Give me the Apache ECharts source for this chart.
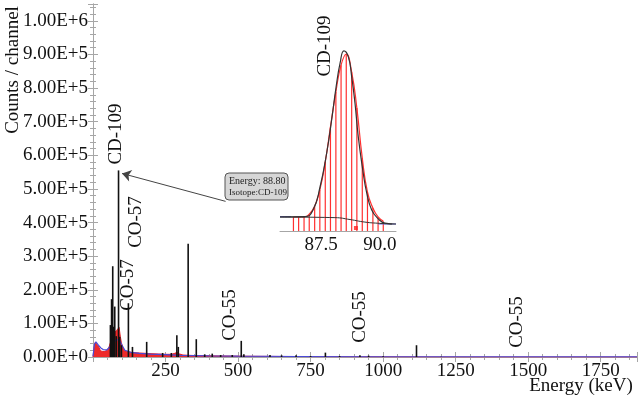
<!DOCTYPE html>
<html>
<head>
<meta charset="utf-8">
<script src="https://cdn.jsdelivr.net/npm/echarts@6/dist/echarts.min.js"></script>
<style>
html, body { margin: 0; padding: 0; background: #fff; }
#spectrum_chart { width: 640px; height: 398px; }
</style>
</head>
<body>
<div id="spectrum_chart"></div>
<script>
// black peaks of the full spectrum (keV, counts per channel)
var peakKeV = [60, 64, 68, 71, 75, 80, 88, 92, 98, 122, 136, 185, 240, 270, 289, 294, 328, 356, 385, 411, 440, 480, 511, 520, 610, 650, 700, 750, 801, 850, 920, 950, 1000, 1115, 1200];
var peakCounts = [95000, 172000, 270000, 90000, 150000, 62000, 555000, 60000, 35000, 160000, 30000, 45000, 12000, 12000, 65000, 30000, 337000, 53000, 8000, 10000, 6000, 6000, 48000, 8000, 6000, 5000, 5000, 3000, 13000, 3000, 5000, 4000, 2000, 35000, 1000];

// red continuum
var contKeV = [0, 4, 8, 14, 20, 26, 32, 38, 44, 50, 56, 62, 68, 74, 80, 86, 90, 94, 98, 103, 108, 115, 125, 140, 160, 180, 200, 225, 250, 270, 282, 290, 298, 310, 330, 360, 400, 450, 500, 560, 650, 750, 850, 1000, 1150, 1300, 1875];
var contCounts = [0, 30000, 44000, 45000, 30000, 18000, 15000, 16000, 15000, 20000, 32000, 48000, 62000, 72000, 78000, 83000, 88000, 62000, 42000, 28000, 20000, 17000, 15000, 13000, 12000, 11000, 10000, 9000, 8000, 8000, 11000, 14000, 9000, 6000, 5000, 4000, 3500, 3000, 2500, 2000, 1500, 1200, 1000, 600, 300, 0, 0];

// blue background fit
var bgKeV = [0, 5, 10, 18, 27, 35, 41, 47, 52, 57, 62, 67, 72, 80, 90, 100, 110, 130, 160, 200, 250, 300, 400, 500, 700, 1000, 1875];
var bgCounts = [2000, 38000, 45000, 36000, 27000, 22000, 20000, 21000, 24000, 29000, 35000, 40000, 45000, 50000, 52000, 35000, 20000, 14000, 11000, 8500, 7000, 5000, 3500, 2500, 1500, 800, 500];

// inset: CD-109 peak channels
var chanKeV = [86.33, 86.55, 86.78, 87.00, 87.23, 87.45, 87.68, 87.90, 88.13, 88.35, 88.57, 88.80, 89.02, 89.25, 89.47, 89.70, 89.92, 90.14];
var chanCounts = [44000, 44000, 44000, 53000, 78000, 129000, 217000, 327000, 437000, 521000, 556000, 499000, 386000, 229000, 122000, 72000, 44000, 31000];

// inset: gaussian fit
var fitKeV = [85.76, 86.82, 87.16, 87.46, 87.74, 87.95, 88.14, 88.31, 88.47, 88.66, 88.80, 88.94, 89.08, 89.27, 89.44, 89.65, 89.93, 90.21, 90.68];
var fitCounts = [44000, 45000, 66000, 139000, 245000, 349000, 453000, 528000, 566000, 547000, 485000, 402000, 296000, 192000, 119000, 66000, 38000, 25000, 22000];

// inset: step background under the peak
var stepKeV = [85.76, 88.09, 88.73, 89.36, 89.99, 90.51];
var stepCounts = [44000, 42000, 36000, 28000, 24000, 22000];

var insetTicks = [87.5, 90.0];

function pairs(xs, ys) {
	var out = [];
	for (var i = 0; i < xs.length; i++) out.push([xs[i], ys[i]]);
	return out;
}

var serif = '"Liberation Serif", "DejaVu Serif", serif';
var axisGray = '#a6a6a6';

var spectrum_chart = echarts.init(document.getElementById("spectrum_chart"));

var insetBlue = [[85.76, 45000], [86.23, 45000], [null, null], [89.92, 22000], [90.68, 22000]];

function rotText(x, y, txt) {
	return { type: 'text', x: x, y: y, rotation: Math.PI / 2, style: { text: txt, font: '19px ' + serif, fill: '#111', align: 'center', verticalAlign: 'middle' } };
}

var option = {
	animation: false,
	backgroundColor: '#fff',
	grid: [
		{ left: 93, right: 3, top: 4, bottom: 41, outerBoundsMode: 'none' },
		{ left: 280, width: 116, top: 40, height: 191, outerBoundsMode: 'none' }
	],
	xAxis: [
		{
			type: 'value', gridIndex: 0, min: 0, max: 1875, interval: 250,
			axisLine: { lineStyle: { color: axisGray } },
			axisTick: { inside: true, length: 5, lineStyle: { color: axisGray } },
			minorTick: { show: true, splitNumber: 5, length: 3, lineStyle: { color: axisGray } },
			splitLine: { show: false },
			axisLabel: {
				showMinLabel: false, showMaxLabel: false, margin: 5,
				formatter: function (v) { return String(v); },
				color: '#111', fontFamily: serif, fontSize: 19
			}
		},
		{
			type: 'value', gridIndex: 0, position: 'top', min: 0, max: 1875, interval: 250,
			axisLine: { lineStyle: { color: axisGray } },
			axisTick: { inside: true, length: 5, lineStyle: { color: axisGray } },
			minorTick: { show: true, splitNumber: 5, length: 3, lineStyle: { color: axisGray } },
			splitLine: { show: false },
			axisLabel: { show: false }
		},
		{
			type: 'value', gridIndex: 1, min: 85.76, max: 90.68,
			axisLine: { lineStyle: { color: axisGray } },
			axisTick: { show: false },
			splitLine: { show: false },
			axisLabel: {
				customValues: insetTicks, margin: 5,
				formatter: function (v) { return v.toFixed(1); },
				color: '#111', fontFamily: serif, fontSize: 19
			}
		}
	],
	yAxis: [
		{
			type: 'value', gridIndex: 0, min: 0, max: 1050000, interval: 100000,
			axisLine: { show: true, lineStyle: { color: axisGray } },
			axisTick: { show: true, inside: true, length: 5, lineStyle: { color: axisGray } },
			minorTick: { show: true, splitNumber: 5, length: 3, lineStyle: { color: axisGray } },
			splitLine: { show: false },
			axisLabel: {
				showMaxLabel: false, margin: 5,
				formatter: function (v) { return v.toExponential(2).toUpperCase(); },
				color: '#111', fontFamily: serif, fontSize: 19
			}
		},
		{
			type: 'value', gridIndex: 0, position: 'right', min: 0, max: 1050000, interval: 100000,
			axisLine: { show: true, lineStyle: { color: axisGray } },
			axisTick: { show: true, inside: true, length: 5, lineStyle: { color: axisGray } },
			minorTick: { show: true, splitNumber: 5, length: 3, lineStyle: { color: axisGray } },
			splitLine: { show: false },
			axisLabel: { show: false }
		},
		{
			type: 'value', gridIndex: 1, min: 0, max: 600000, show: false
		}
	],
	series: [
		{
			name: 'continuum', type: 'line', xAxisIndex: 0, yAxisIndex: 0,
			data: pairs(contKeV, contCounts), symbol: 'none', silent: true, z: 2,
			lineStyle: { color: '#e8262a', width: 1 },
			areaStyle: { color: '#ee2a2a', opacity: 1 }
		},
		{
			name: 'background', type: 'line', xAxisIndex: 0, yAxisIndex: 0,
			data: pairs(bgKeV, bgCounts), symbol: 'none', silent: true, z: 3,
			lineStyle: { color: '#4a4ad8', width: 1.2 }
		},
		{
			name: 'peaks', type: 'bar', xAxisIndex: 0, yAxisIndex: 0,
			data: pairs(peakKeV, peakCounts), barWidth: 1.6, silent: true, z: 4,
			itemStyle: { color: '#111' },
			markLine: {
				silent: true, symbol: ['none', 'arrow'], symbolSize: 9,
				label: { show: false },
				lineStyle: { color: '#444', width: 1, type: 'solid' },
				data: [[{ coord: [457, 463000] }, { coord: [100, 546000] }]]
			}
		},
		{
			name: 'channels', type: 'bar', xAxisIndex: 2, yAxisIndex: 2,
			data: pairs(chanKeV, chanCounts), barWidth: 1.2, silent: true,
			itemStyle: { color: '#ff3030' }
		},
		{
			name: 'envelope', type: 'line', xAxisIndex: 2, yAxisIndex: 2,
			data: pairs(chanKeV, chanCounts), smooth: true, symbol: 'none', silent: true,
			lineStyle: { color: '#ff3030', width: 1.2 }
		},
		{
			name: 'fit', type: 'line', xAxisIndex: 2, yAxisIndex: 2,
			data: pairs(fitKeV, fitCounts), smooth: true, symbol: 'none', silent: true, z: 5,
			lineStyle: { color: '#333', width: 1.2 }
		},
		{
			name: 'step', type: 'line', xAxisIndex: 2, yAxisIndex: 2,
			data: pairs(stepKeV, stepCounts), smooth: true, symbol: 'none', silent: true, z: 5,
			lineStyle: { color: '#333', width: 1 }
		},
		{
			name: 'insetbg', type: 'line', xAxisIndex: 2, yAxisIndex: 2,
			data: insetBlue, symbol: 'none', silent: true, connectNulls: false,
			lineStyle: { color: '#6a6ae0', width: 1.2 }
		},
		{
			name: 'marker', type: 'scatter', xAxisIndex: 2, yAxisIndex: 2,
			data: [[88.98, 9400]], symbol: 'rect', symbolSize: 4, silent: true,
			itemStyle: { color: '#ff2020' }
		}
	],
	graphic: [
		rotText(13, 70, 'Counts / channel'),
		{ type: 'text', x: 581, y: 386, style: { text: 'Energy (keV)', font: '19px ' + serif, fill: '#111', align: 'center', verticalAlign: 'middle' } },
		rotText(116, 134, 'CD-109'),
		rotText(128, 285, 'CO-57'),
		rotText(136, 222, 'CO-57'),
		rotText(230, 315, 'CO-55'),
		rotText(360, 317, 'CO-55'),
		rotText(517, 322, 'CO-55'),
		rotText(325, 46, 'CD-109'),
		{ type: 'rect', shape: { x: 225, y: 173, width: 63, height: 27, r: 4 }, style: { fill: '#d6d6d6', stroke: '#555', lineWidth: 1 } },
		{ type: 'text', x: 229, y: 181, style: { text: 'Energy: 88.80', font: '10px ' + serif, fill: '#222', align: 'left', verticalAlign: 'middle' } },
		{ type: 'text', x: 229, y: 193, style: { text: 'Isotope:CD-109', font: '9px ' + serif, fill: '#222', align: 'left', verticalAlign: 'middle' } }
	]
};
spectrum_chart.setOption(option);
</script>
</body>
</html>
